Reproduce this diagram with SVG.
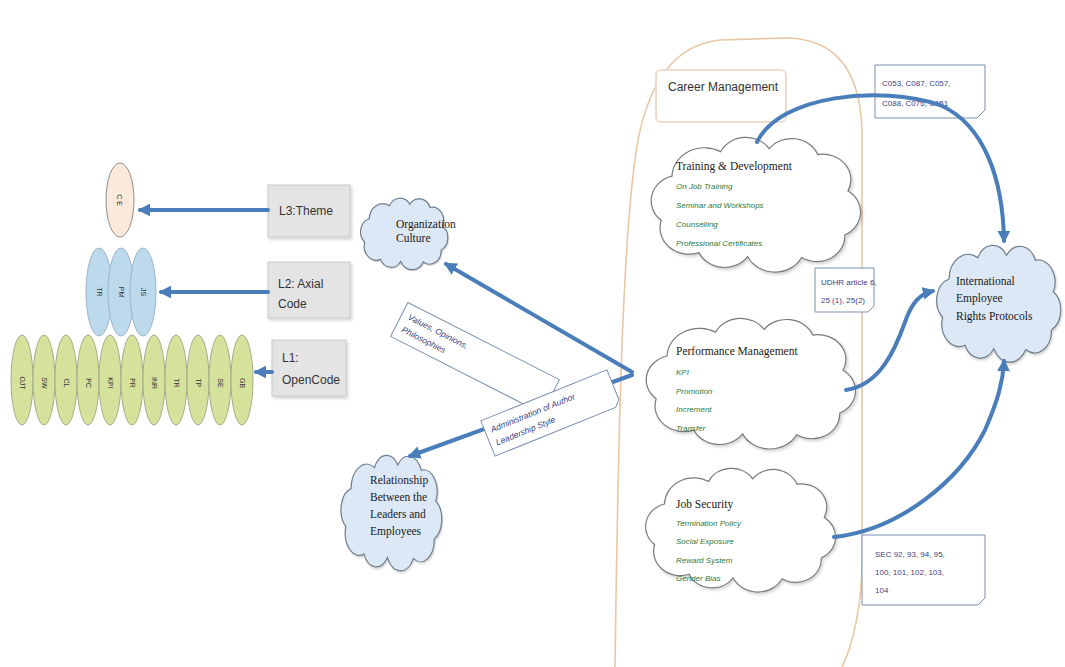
<svg xmlns="http://www.w3.org/2000/svg" xmlns:xlink="http://www.w3.org/1999/xlink" width="1065" height="667" viewBox="0 0 1065 667">
  <style>
    .lbl { font-family: "Liberation Sans", Arial, sans-serif; font-size: 12px; fill: #333; }
    .ctitle { font-family: "Liberation Serif", "Times New Roman", serif; font-size: 11.5px; fill: #1a1a1a; }
    .item { font-family: "Liberation Sans", Arial, sans-serif; font-size: 8px; font-style: italic; fill: #2d7a3c; }
    .tag { font-family: "Liberation Sans", Arial, sans-serif; font-size: 8px; fill: #3b3f86; }
    .tagi { font-family: "Liberation Sans", Arial, sans-serif; font-size: 8.5px; font-style: italic; fill: #3b3f86; }
    .vt { font-family: "Liberation Sans", Arial, sans-serif; font-size: 7px; fill: #333; text-anchor: middle; }
    .gbox { fill: #e4e4e4; stroke: #c9c9c9; stroke-width: 1; }
    .cl-white { fill: #ffffff; stroke: #7a7a7a; stroke-width: 1.2; }
    .cl-blue { fill: #dce8f5; stroke: #6f7d8c; stroke-width: 1.2; }
    .ell-g { fill: #d5e29c; stroke: #a7ad8a; stroke-width: 1; }
    .ell-b { fill: #bcdaec; stroke: #9db3c6; stroke-width: 1; }
    .conn { fill: none; stroke: #4a7ebb; stroke-width: 4; stroke-linecap: round; }
    .note { fill: #ffffff; stroke: #7c8fb0; stroke-width: 1; }
  </style>
  <defs>
    <marker id="ah" viewBox="0 0 10 10" refX="8" refY="5" markerWidth="3.2" markerHeight="3.2" orient="auto" markerUnits="strokeWidth">
      <path d="M0,0 L10,5 L0,10 z" fill="#4a7ebb"/>
    </marker>
    <filter id="sh" x="-10%" y="-10%" width="130%" height="130%">
      <feDropShadow dx="1.5" dy="2" stdDeviation="1.5" flood-color="#000" flood-opacity="0.18"/>
    </filter>
    <!-- unit cloud outline, drawn in a 200 x 130 box -->
    <path id="cloud" vector-effect="non-scaling-stroke"
      d="M15,85 A26,26 0 0 1 25,40 A30,30 0 0 1 70,15 A26,26 0 0 1 115,12 A26,26 0 0 1 160,18 A26,26 0 0 1 188,55 A26,26 0 0 1 185,100 A26,26 0 0 1 145,123 A28,28 0 0 1 95,122 A26,26 0 0 1 50,118 A27,27 0 0 1 15,85 Z"/>
  </defs>

  <rect width="1065" height="667" fill="#ffffff"/>

  <!-- container outline behind the career clouds -->
  <path d="M615,667 C618,450 622,230 638,140 C650,80 675,45 720,40 L785,38 C835,38 860,70 862,130 L862,560 C862,600 855,640 842,667"
        fill="none" stroke="#e8c7a4" stroke-width="1.6"/>

  <!-- code levels -->
  <g id="open-codes">
    <ellipse class="ell-g" cx="22" cy="380" rx="11" ry="45"/>
    <ellipse class="ell-g" cx="44" cy="380" rx="11" ry="45"/>
    <ellipse class="ell-g" cx="66" cy="380" rx="11" ry="45"/>
    <ellipse class="ell-g" cx="88" cy="380" rx="11" ry="45"/>
    <ellipse class="ell-g" cx="110" cy="380" rx="11" ry="45"/>
    <ellipse class="ell-g" cx="132" cy="380" rx="11" ry="45"/>
    <ellipse class="ell-g" cx="154" cy="380" rx="11" ry="45"/>
    <ellipse class="ell-g" cx="176" cy="380" rx="11" ry="45"/>
    <ellipse class="ell-g" cx="198" cy="380" rx="11" ry="45"/>
    <ellipse class="ell-g" cx="220" cy="380" rx="11" ry="45"/>
    <ellipse class="ell-g" cx="242" cy="380" rx="11" ry="45"/>
    <text class="vt" transform="translate(20,383) rotate(90)">OJT</text>
    <text class="vt" transform="translate(42,383) rotate(90)">SW</text>
    <text class="vt" transform="translate(64,383) rotate(90)">CL</text>
    <text class="vt" transform="translate(86,383) rotate(90)">PC</text>
    <text class="vt" transform="translate(108,383) rotate(90)">KPI</text>
    <text class="vt" transform="translate(130,383) rotate(90)">PR</text>
    <text class="vt" transform="translate(152,383) rotate(90)">INR</text>
    <text class="vt" transform="translate(174,383) rotate(90)">TR</text>
    <text class="vt" transform="translate(196,383) rotate(90)">TP</text>
    <text class="vt" transform="translate(218,383) rotate(90)">SE</text>
    <text class="vt" transform="translate(240,383) rotate(90)">GB</text>
  </g>

  <g id="axial-codes">
    <ellipse class="ell-b" cx="99" cy="292" rx="13" ry="44"/>
    <ellipse class="ell-b" cx="121" cy="292" rx="13" ry="44"/>
    <ellipse class="ell-b" cx="143" cy="292" rx="13" ry="44"/>
    <text class="vt" transform="translate(97,292) rotate(90)">TR</text>
    <text class="vt" transform="translate(119,292) rotate(90)">PM</text>
    <text class="vt" transform="translate(141,292) rotate(90)">JS</text>
  </g>

  <g id="theme">
    <ellipse cx="120" cy="200" rx="14" ry="37" fill="#fbe9dc" stroke="#8e8e8e" stroke-width="1"/>
    <text class="vt" font-size="8" transform="translate(117,200) rotate(90)">C  E</text>
  </g>

  <g id="level-3">
    <rect class="gbox" x="268" y="185" width="82" height="52" filter="url(#sh)"/>
    <text class="lbl" x="279" y="215">L3:Theme</text>
  </g>
  <g id="level-2">
    <rect class="gbox" x="268" y="262" width="82" height="56" filter="url(#sh)"/>
    <text class="lbl" x="278" y="288">L2: Axial</text>
    <text class="lbl" x="278" y="308">Code</text>
  </g>
  <g id="level-1">
    <rect class="gbox" x="272" y="340" width="74" height="56" filter="url(#sh)"/>
    <text class="lbl" x="282" y="362">L1:</text>
    <text class="lbl" x="282" y="384">OpenCode</text>
  </g>

  <!-- left-hand clouds -->
  <g id="organization-culture">
    <use href="#cloud" class="cl-blue" filter="url(#sh)" transform="translate(358,198) scale(0.45,0.52)"/>
    <text class="ctitle" font-size="10" x="396" y="228">Organization</text>
    <text class="ctitle" font-size="10" x="396" y="242">Culture</text>
  </g>

  <g id="relationship">
    <use href="#cloud" class="cl-blue" filter="url(#sh)" transform="translate(338,455) scale(0.52,0.84)"/>
    <text class="ctitle" font-size="10.5" x="370" y="484">Relationship</text>
    <text class="ctitle" font-size="10.5" x="370" y="501">Between the</text>
    <text class="ctitle" font-size="10.5" x="370" y="518">Leaders and</text>
    <text class="ctitle" font-size="10.5" x="370" y="535">Employees</text>
  </g>

  <!-- career management group -->
  <g id="career-management">
    <rect x="656" y="70" width="130" height="52" rx="5" fill="#ffffff" stroke="#f1dccb" stroke-width="2"/>
    <text class="lbl" font-size="10" x="668" y="91">Career Management</text>
  </g>

  <g id="training">
    <use href="#cloud" class="cl-white" filter="url(#sh)" transform="translate(645,137) scale(1.08,0.98)"/>
    <text class="ctitle" x="676" y="170">Training &amp; Development</text>
    <text class="item" x="676" y="189">On Job Training</text>
    <text class="item" x="676" y="208">Seminar and Workshops</text>
    <text class="item" x="676" y="227">Counselling</text>
    <text class="item" x="676" y="246">Professional Certificates</text>
  </g>

  <g id="performance">
    <use href="#cloud" class="cl-white" filter="url(#sh)" transform="translate(640,318) scale(1.08,0.95)"/>
    <text class="ctitle" x="676" y="355">Performance Management</text>
    <text class="item" x="676" y="375">KPI</text>
    <text class="item" x="676" y="394">Promotion</text>
    <text class="item" x="676" y="412">Increment</text>
    <text class="item" x="676" y="431">Transfer</text>
  </g>

  <g id="job-security">
    <use href="#cloud" class="cl-white" filter="url(#sh)" transform="translate(640,468) scale(0.98,0.9)"/>
    <text class="ctitle" x="676" y="508">Job Security</text>
    <text class="item" x="676" y="526">Termination Policy</text>
    <text class="item" x="676" y="544">Social Exposure</text>
    <text class="item" x="676" y="563">Reward System</text>
    <text class="item" x="676" y="581">Gender Bias</text>
  </g>

  <g id="international-protocols">
    <use href="#cloud" class="cl-blue" filter="url(#sh)" transform="translate(933,245) scale(0.64,0.85)"/>
    <text class="ctitle" font-size="10.5" x="956" y="285">International</text>
    <text class="ctitle" font-size="10.5" x="956" y="302">Employee</text>
    <text class="ctitle" font-size="10.5" x="956" y="320">Rights Protocols</text>
  </g>

  <!-- reference notes -->
  <g id="note-conventions">
    <path class="note" d="M875,65 H985 V110 L977,118 H875 Z"/>
    <text class="tag" x="882" y="86">C053, C087, C057,</text>
    <text class="tag" x="882" y="106">C088, C076, C151</text>
  </g>
  <g id="note-udhr">
    <path class="note" d="M815,268 H874 V306 L868,312 H815 Z"/>
    <text class="tag" font-size="7" x="821" y="285">UDHR article 6,</text>
    <text class="tag" font-size="7" x="821" y="303">25 (1), 25(2)</text>
  </g>
  <g id="note-sec">
    <path class="note" d="M862,535 H985 V598 L978,605 H862 Z"/>
    <text class="tag" x="875" y="557">SEC 92, 93, 94, 95,</text>
    <text class="tag" x="875" y="575">100, 101, 102, 103,</text>
    <text class="tag" x="875" y="593">104</text>
  </g>

  <!-- connectors -->
  <g id="connectors">
    <line class="conn" x1="268" y1="210" x2="140" y2="210" marker-end="url(#ah)"/>
    <line class="conn" x1="268" y1="292" x2="161" y2="292" marker-end="url(#ah)"/>
    <line class="conn" x1="272" y1="372" x2="256" y2="372" marker-end="url(#ah)"/>
    <line class="conn" x1="632" y1="372" x2="446" y2="264" marker-end="url(#ah)"/>
    <line class="conn" x1="632" y1="375" x2="410" y2="456" marker-end="url(#ah)"/>
    <path class="conn" d="M757,142 C780,95 880,85 940,105 C985,125 1003,180 1004,241" marker-end="url(#ah)"/>
    <path class="conn" d="M846,390 C880,385 895,350 905,322 C912,302 920,294 933,291" marker-end="url(#ah)"/>
    <path class="conn" d="M834,537 C900,530 960,480 985,430 C998,400 1003,382 1004,361" marker-end="url(#ah)"/>
  </g>

  <!-- labels riding on the two diagonal connectors -->
  <g id="label-values" transform="translate(475,358) rotate(27)">
    <path class="note" d="M-85,-19 H85 V13 L79,19 H-85 Z"/>
    <text class="tagi" x="-78" y="-4">Values, Opinions,</text>
    <text class="tagi" x="-78" y="10">Philosophies</text>
  </g>
  <g id="label-admin" transform="translate(551,413) rotate(-22)">
    <path class="note" d="M-68,-19 H68 V13 L62,19 H-68 Z"/>
    <text class="tagi" x="-62" y="-4">Administration of Author</text>
    <text class="tagi" x="-62" y="10">Leadership Style</text>
  </g>
</svg>
